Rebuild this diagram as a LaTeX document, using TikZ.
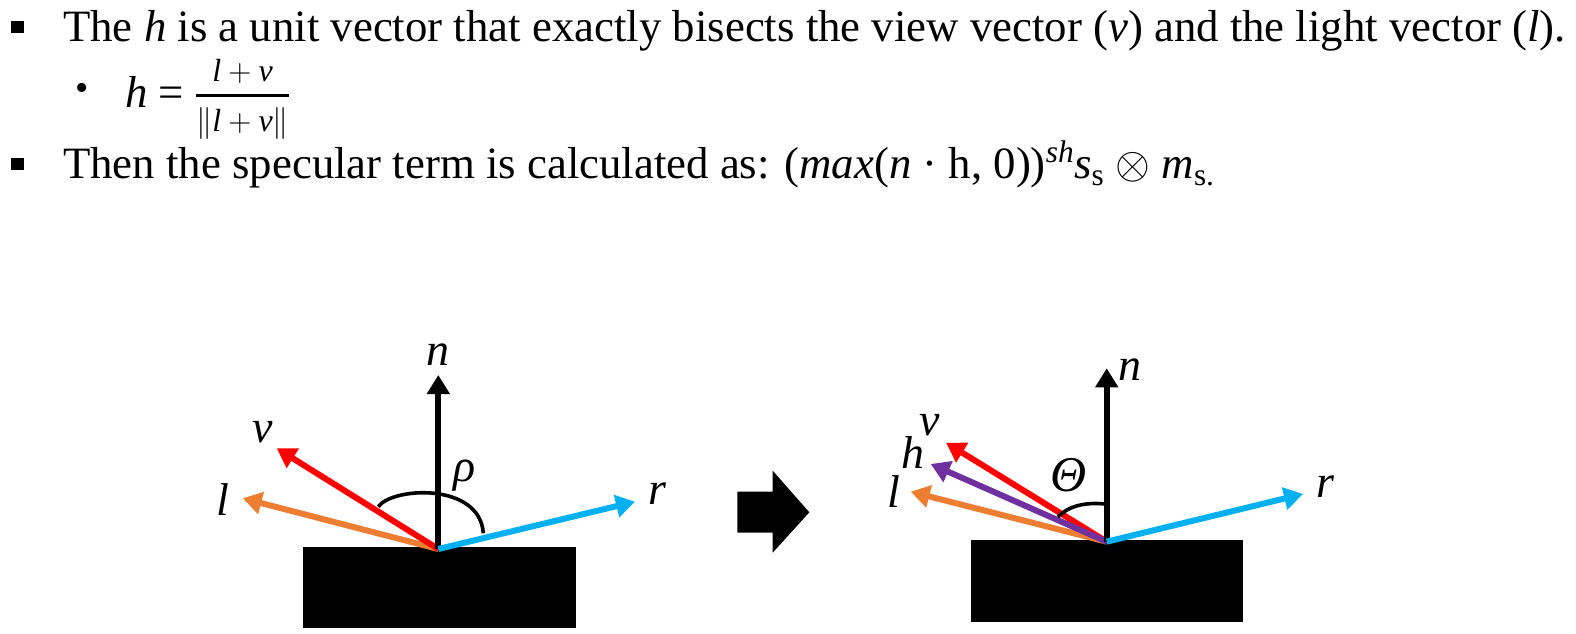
\RequirePackage{fix-cm}
\documentclass[tikz,border=0pt]{standalone}
\usepackage{amsmath}
\usepackage{fontspec}
\setmainfont{Liberation Serif}
\usetikzlibrary{arrows.meta}
\definecolor{vecred}{RGB}{255,0,0}
\definecolor{vecorange}{RGB}{237,125,49}
\definecolor{vecpurple}{RGB}{112,48,160}
\definecolor{vecblue}{RGB}{0,176,240}
\newcommand{\fracfont}{\fontsize{32}{36}\selectfont}
\begin{document}
\begin{tikzpicture}[x=1pt, y=-1pt,
  every node/.style={inner sep=0pt, font=\fontsize{44.8}{52}\selectfont},
  vec/.style={line width=6pt, -{Triangle[width=22pt,length=19pt]}},
  lab/.style={font=\fontsize{46}{52}\selectfont\itshape},
  angarc/.style={line width=3.6pt},
  surface/.style={fill=black},
  sqbullet/.style={fill=black, minimum width=13pt, minimum height=12pt}
]
\useasboundingbox (0,0) rectangle (1576,634);
% text lines
\node[sqbullet] (sqA) at (17.5,27.5) {};
\node[anchor=base west] (lineA) at (63,41.7) {The \textit{h} is a unit vector that exactly bisects the view vector (\textit{v}) and the light vector (\textit{l}).};
\node (dotB) at (81.7,91.7) {\fontsize{38}{40}\selectfont\textbullet};
\node[anchor=base west] (lineB) at (125,107) {\textit{h} = $\genfrac{}{}{3pt}{0}{\smash[b]{\raisebox{-5pt}{\fracfont$\textit{l}+\textit{v}$}}}{\smash[t]{\raisebox{6.7pt}{\fracfont$\|\textit{l}+\textit{v}\|$}}}$};
\node[sqbullet] (sqC) at (17.5,163.5) {};
\node[anchor=base west] (lineC) at (63,178.3) {Then the specular term is calculated as: (\textit{max}(\textit{n} · h, 0))\textsuperscript{\textit{sh}}\textit{s}\textsubscript{s} $\otimes$ \textit{m}\textsubscript{s.}};

% left surface
\node[surface, minimum width=273pt, minimum height=81pt] (slabL) at (439.5,587.5) {};
\coordinate (oL) at (438.3,549);
\coordinate (nL) at (438.3,375);
\coordinate (vL) at (276.7,448.3);
\coordinate (lL) at (242.7,498.3);
\coordinate (rL) at (635,501.7);
\draw[vec, vecorange] (oL) -- (lL);
\draw[vec, vecred] (oL) -- (vL);
\draw[vec, black] (oL) -- (nL);
\draw[vec, vecblue] (oL) -- (rL);
\draw[angarc] (378.3,506.7) .. controls (392,487) and (480,482) .. (483.3,533.3);
\node[lab] (nLab) at (438,355) {n};
\node[lab] (vLab) at (263,432) {v};
\node[lab] (lLab) at (223,500) {l};
\node[lab] (rLab) at (657,494) {r};
\node[lab] (rhoLab) at (465,476) {ρ};

% block arrow
\fill (737.3,491.7) -- (772.7,491.7) -- (772.7,470.7) -- (809.3,512.3) -- (772.7,552.7) -- (772.7,532.7) -- (737.3,532.7) -- cycle;

% right surface
\node[surface, minimum width=272pt, minimum height=82pt] (slabR) at (1107,581) {};
\coordinate (oR) at (1106.7,541.7);
\coordinate (nR) at (1106.7,368.3);
\coordinate (vR) at (946,442.7);
\coordinate (hR) at (930.7,464);
\coordinate (lR) at (910.7,491.7);
\coordinate (rR) at (1303,494);
\draw[vec, vecorange] (oR) -- (lR);
\draw[vec, vecred] (oR) -- (vR);
\draw[vec, vecpurple] (oR) -- (hR);
\draw[vec, black] (oR) -- (nR);
\draw[vec, vecblue] (oR) -- (rR);
\draw[angarc] (1058,517) .. controls (1068,506) and (1085,502) .. (1105,504);
\node[lab] (nLabR) at (1130,370) {n};
\node[lab] (vLabR) at (930,425) {v};
\node[lab] (hLabR) at (913,453) {h};
\node[lab] (lLabR) at (894,491.7) {l};
\node[lab] (rLabR) at (1325,487) {r};
\node[lab, font=\fontsize{50}{56}\selectfont\itshape] (thetaLab) at (1069,475) {Θ};
\end{tikzpicture}
\end{document}
